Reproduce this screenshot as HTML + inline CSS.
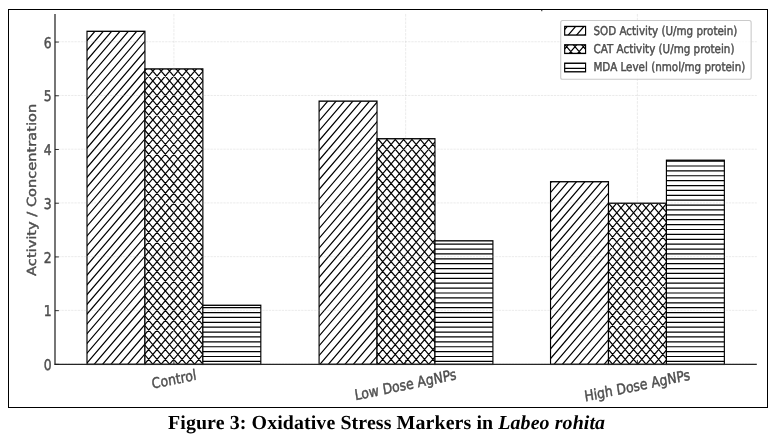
<!DOCTYPE html>
<html lang="en"><head><meta charset="utf-8"><title>Figure 3: Oxidative Stress Markers in Labeo rohita</title>
<style>
html,body{margin:0;padding:0;background:#fff;}
body{width:777px;height:442px;overflow:hidden;position:relative;}
#fig{position:absolute;left:0;top:0;width:777px;height:442px;}
#cap{position:absolute;left:0;top:0;width:777px;height:442px;pointer-events:none;}
</style></head><body>
<div id="fig">
<svg width="777" height="442" viewBox="0 0 777 442" style="display:block">
<rect x="0" y="0" width="777" height="442" fill="#fff"/>
<rect x="8.5" y="9.5" width="759" height="398" fill="none" stroke="#000" stroke-width="1" shape-rendering="crispEdges"/>
<rect x="541" y="10" width="1.4" height="1.2" fill="#555"/>
<g transform="scale(1.045,1.2213)">
<clipPath id="c1"><rect x="83.25" y="25.64" width="55.44" height="272.71"/></clipPath>
<rect x="83.25" y="25.64" width="55.44" height="272.71" fill="#fff"/>
<path d="M81.34 19.14L140.61 -40.13M81.34 27.14L140.61 -32.13M81.34 35.14L140.61 -24.13M81.34 43.14L140.61 -16.13M81.34 51.14L140.61 -8.13M81.34 59.14L140.61 -0.13M81.34 67.14L140.61 7.87M81.34 75.14L140.61 15.87M81.34 83.14L140.61 23.87M81.34 91.14L140.61 31.87M81.34 99.14L140.61 39.87M81.34 107.14L140.61 47.87M81.34 115.14L140.61 55.87M81.34 123.14L140.61 63.87M81.34 131.13L140.61 71.87M81.34 139.13L140.61 79.87M81.34 147.13L140.61 87.87M81.34 155.13L140.61 95.87M81.34 163.13L140.61 103.87M81.34 171.13L140.61 111.87M81.34 179.13L140.61 119.87M81.34 187.13L140.61 127.87M81.34 195.13L140.61 135.87M81.34 203.13L140.61 143.87M81.34 211.13L140.61 151.86M81.34 219.13L140.61 159.86M81.34 227.13L140.61 167.86M81.34 235.13L140.61 175.86M81.34 243.13L140.61 183.86M81.34 251.13L140.61 191.86M81.34 259.13L140.61 199.86M81.34 267.13L140.61 207.86M81.34 275.13L140.61 215.86M81.34 283.13L140.61 223.86M81.34 291.13L140.61 231.86M81.34 299.13L140.61 239.86M81.34 307.13L140.61 247.86M81.34 315.13L140.61 255.86M81.34 323.13L140.61 263.86M81.34 331.13L140.61 271.86M81.34 339.13L140.61 279.86M81.34 347.13L140.61 287.86M81.34 355.13L140.61 295.86M81.34 363.13L140.61 303.86" clip-path="url(#c1)" fill="none" stroke="#000" stroke-width="1.08"/>
<rect x="83.25" y="25.64" width="55.44" height="272.71" fill="none" stroke="#000" stroke-width="1.1"/>
<clipPath id="c2"><rect x="138.70" y="56.43" width="55.44" height="241.92"/></clipPath>
<rect x="138.70" y="56.43" width="55.44" height="241.92" fill="#fff"/>
<path d="M136.78 43.70L196.05 -15.57M136.78 51.70L196.05 -7.57M136.78 59.70L196.05 0.43M136.78 67.70L196.05 8.43M136.78 75.70L196.05 16.43M136.78 83.70L196.05 24.43M136.78 91.70L196.05 32.43M136.78 99.69L196.05 40.43M136.78 107.69L196.05 48.43M136.78 115.69L196.05 56.43M136.78 123.69L196.05 64.43M136.78 131.69L196.05 72.43M136.78 139.69L196.05 80.43M136.78 147.69L196.05 88.43M136.78 155.69L196.05 96.43M136.78 163.69L196.05 104.43M136.78 171.69L196.05 112.42M136.78 179.69L196.05 120.42M136.78 187.69L196.05 128.42M136.78 195.69L196.05 136.42M136.78 203.69L196.05 144.42M136.78 211.69L196.05 152.42M136.78 219.69L196.05 160.42M136.78 227.69L196.05 168.42M136.78 235.69L196.05 176.42M136.78 243.69L196.05 184.42M136.78 251.69L196.05 192.42M136.78 259.69L196.05 200.42M136.78 267.69L196.05 208.42M136.78 275.69L196.05 216.42M136.78 283.69L196.05 224.42M136.78 291.69L196.05 232.42M136.78 299.69L196.05 240.42M136.78 307.69L196.05 248.42M136.78 315.69L196.05 256.42M136.78 323.69L196.05 264.42M136.78 331.69L196.05 272.42M136.78 339.68L196.05 280.42M136.78 347.68L196.05 288.42M136.78 355.68L196.05 296.42M136.78 363.68L196.05 304.42M136.78 304.77L196.05 364.04M136.78 296.77L196.05 356.04M136.78 288.77L196.05 348.04M136.78 280.77L196.05 340.04M136.78 272.77L196.05 332.04M136.78 264.77L196.05 324.04M136.78 256.77L196.05 316.04M136.78 248.77L196.05 308.04M136.78 240.77L196.05 300.04M136.78 232.77L196.05 292.04M136.78 224.77L196.05 284.04M136.78 216.77L196.05 276.04M136.78 208.77L196.05 268.04M136.78 200.77L196.05 260.04M136.78 192.77L196.05 252.04M136.78 184.77L196.05 244.04M136.78 176.77L196.05 236.04M136.78 168.77L196.05 228.04M136.78 160.77L196.05 220.04M136.78 152.77L196.05 212.04M136.78 144.78L196.05 204.04M136.78 136.78L196.05 196.04M136.78 128.78L196.05 188.04M136.78 120.78L196.05 180.04M136.78 112.78L196.05 172.04M136.78 104.78L196.05 164.04M136.78 96.78L196.05 156.04M136.78 88.78L196.05 148.04M136.78 80.78L196.05 140.04M136.78 72.78L196.05 132.05M136.78 64.78L196.05 124.05M136.78 56.78L196.05 116.05M136.78 48.78L196.05 108.05M136.78 40.78L196.05 100.05M136.78 32.78L196.05 92.05M136.78 24.78L196.05 84.05M136.78 16.78L196.05 76.05M136.78 8.78L196.05 68.05M136.78 0.78L196.05 60.05M136.78 -7.22L196.05 52.05" clip-path="url(#c2)" fill="none" stroke="#000" stroke-width="1.08"/>
<rect x="138.70" y="56.43" width="55.44" height="241.92" fill="none" stroke="#000" stroke-width="1.1"/>
<clipPath id="c3"><rect x="194.14" y="249.97" width="55.44" height="48.38"/></clipPath>
<rect x="194.14" y="249.97" width="55.44" height="48.38" fill="#fff"/>
<path d="M192.22 243.91L251.49 243.91M192.22 247.91L251.49 247.91M192.22 251.91L251.49 251.91M192.22 255.91L251.49 255.91M192.22 259.91L251.49 259.91M192.22 263.91L251.49 263.91M192.22 267.91L251.49 267.91M192.22 271.91L251.49 271.91M192.22 275.91L251.49 275.91M192.22 279.91L251.49 279.91M192.22 283.91L251.49 283.91M192.22 287.91L251.49 287.91M192.22 291.91L251.49 291.91M192.22 295.91L251.49 295.91" clip-path="url(#c3)" fill="none" stroke="#000" stroke-width="1.0"/>
<rect x="194.14" y="249.97" width="55.44" height="48.38" fill="none" stroke="#000" stroke-width="1.1"/>
<clipPath id="c4"><rect x="305.35" y="82.82" width="55.44" height="215.53"/></clipPath>
<rect x="305.35" y="82.82" width="55.44" height="215.53" fill="#fff"/>
<path d="M303.44 69.04L362.71 9.77M303.44 77.04L362.71 17.77M303.44 85.04L362.71 25.77M303.44 93.04L362.71 33.77M303.44 101.04L362.71 41.77M303.44 109.03L362.71 49.77M303.44 117.03L362.71 57.77M303.44 125.03L362.71 65.77M303.44 133.03L362.71 73.77M303.44 141.03L362.71 81.77M303.44 149.03L362.71 89.77M303.44 157.03L362.71 97.77M303.44 165.03L362.71 105.77M303.44 173.03L362.71 113.77M303.44 181.03L362.71 121.77M303.44 189.03L362.71 129.76M303.44 197.03L362.71 137.76M303.44 205.03L362.71 145.76M303.44 213.03L362.71 153.76M303.44 221.03L362.71 161.76M303.44 229.03L362.71 169.76M303.44 237.03L362.71 177.76M303.44 245.03L362.71 185.76M303.44 253.03L362.71 193.76M303.44 261.03L362.71 201.76M303.44 269.03L362.71 209.76M303.44 277.03L362.71 217.76M303.44 285.03L362.71 225.76M303.44 293.03L362.71 233.76M303.44 301.03L362.71 241.76M303.44 309.03L362.71 249.76M303.44 317.03L362.71 257.76M303.44 325.03L362.71 265.76M303.44 333.03L362.71 273.76M303.44 341.03L362.71 281.76M303.44 349.03L362.71 289.76M303.44 357.02L362.71 297.76" clip-path="url(#c4)" fill="none" stroke="#000" stroke-width="1.08"/>
<rect x="305.35" y="82.82" width="55.44" height="215.53" fill="none" stroke="#000" stroke-width="1.1"/>
<clipPath id="c5"><rect x="360.80" y="113.61" width="55.44" height="184.74"/></clipPath>
<rect x="360.80" y="113.61" width="55.44" height="184.74" fill="#fff"/>
<path d="M358.88 101.59L418.15 42.33M358.88 109.59L418.15 50.33M358.88 117.59L418.15 58.33M358.88 125.59L418.15 66.33M358.88 133.59L418.15 74.33M358.88 141.59L418.15 82.33M358.88 149.59L418.15 90.32M358.88 157.59L418.15 98.32M358.88 165.59L418.15 106.32M358.88 173.59L418.15 114.32M358.88 181.59L418.15 122.32M358.88 189.59L418.15 130.32M358.88 197.59L418.15 138.32M358.88 205.59L418.15 146.32M358.88 213.59L418.15 154.32M358.88 221.59L418.15 162.32M358.88 229.59L418.15 170.32M358.88 237.59L418.15 178.32M358.88 245.59L418.15 186.32M358.88 253.59L418.15 194.32M358.88 261.59L418.15 202.32M358.88 269.59L418.15 210.32M358.88 277.59L418.15 218.32M358.88 285.59L418.15 226.32M358.88 293.59L418.15 234.32M358.88 301.59L418.15 242.32M358.88 309.59L418.15 250.32M358.88 317.58L418.15 258.32M358.88 325.58L418.15 266.32M358.88 333.58L418.15 274.32M358.88 341.58L418.15 282.32M358.88 349.58L418.15 290.32M358.88 357.58L418.15 298.32M358.88 310.87L418.15 370.14M358.88 302.87L418.15 362.14M358.88 294.87L418.15 354.14M358.88 286.87L418.15 346.14M358.88 278.87L418.15 338.14M358.88 270.87L418.15 330.14M358.88 262.87L418.15 322.14M358.88 254.87L418.15 314.14M358.88 246.87L418.15 306.14M358.88 238.87L418.15 298.14M358.88 230.87L418.15 290.14M358.88 222.87L418.15 282.14M358.88 214.87L418.15 274.14M358.88 206.87L418.15 266.14M358.88 198.87L418.15 258.14M358.88 190.87L418.15 250.14M358.88 182.87L418.15 242.14M358.88 174.87L418.15 234.14M358.88 166.88L418.15 226.14M358.88 158.88L418.15 218.14M358.88 150.88L418.15 210.14M358.88 142.88L418.15 202.14M358.88 134.88L418.15 194.14M358.88 126.88L418.15 186.14M358.88 118.88L418.15 178.14M358.88 110.88L418.15 170.14M358.88 102.88L418.15 162.14M358.88 94.88L418.15 154.15M358.88 86.88L418.15 146.15M358.88 78.88L418.15 138.15M358.88 70.88L418.15 130.15M358.88 62.88L418.15 122.15M358.88 54.88L418.15 114.15" clip-path="url(#c5)" fill="none" stroke="#000" stroke-width="1.08"/>
<rect x="360.80" y="113.61" width="55.44" height="184.74" fill="none" stroke="#000" stroke-width="1.1"/>
<clipPath id="c6"><rect x="416.24" y="197.19" width="55.44" height="101.17"/></clipPath>
<rect x="416.24" y="197.19" width="55.44" height="101.17" fill="#fff"/>
<path d="M414.32 191.91L473.59 191.91M414.32 195.91L473.59 195.91M414.32 199.91L473.59 199.91M414.32 203.91L473.59 203.91M414.32 207.91L473.59 207.91M414.32 211.91L473.59 211.91M414.32 215.91L473.59 215.91M414.32 219.91L473.59 219.91M414.32 223.91L473.59 223.91M414.32 227.91L473.59 227.91M414.32 231.91L473.59 231.91M414.32 235.91L473.59 235.91M414.32 239.91L473.59 239.91M414.32 243.91L473.59 243.91M414.32 247.91L473.59 247.91M414.32 251.91L473.59 251.91M414.32 255.91L473.59 255.91M414.32 259.91L473.59 259.91M414.32 263.91L473.59 263.91M414.32 267.91L473.59 267.91M414.32 271.91L473.59 271.91M414.32 275.91L473.59 275.91M414.32 279.91L473.59 279.91M414.32 283.91L473.59 283.91M414.32 287.91L473.59 287.91M414.32 291.91L473.59 291.91M414.32 295.91L473.59 295.91" clip-path="url(#c6)" fill="none" stroke="#000" stroke-width="1.0"/>
<rect x="416.24" y="197.19" width="55.44" height="101.17" fill="none" stroke="#000" stroke-width="1.1"/>
<clipPath id="c7"><rect x="526.83" y="148.80" width="55.44" height="149.55"/></clipPath>
<rect x="526.83" y="148.80" width="55.44" height="149.55" fill="#fff"/>
<path d="M524.92 135.55L584.19 76.29M524.92 143.55L584.19 84.29M524.92 151.55L584.19 92.29M524.92 159.55L584.19 100.29M524.92 167.55L584.19 108.29M524.92 175.55L584.19 116.29M524.92 183.55L584.19 124.29M524.92 191.55L584.19 132.29M524.92 199.55L584.19 140.29M524.92 207.55L584.19 148.29M524.92 215.55L584.19 156.28M524.92 223.55L584.19 164.28M524.92 231.55L584.19 172.28M524.92 239.55L584.19 180.28M524.92 247.55L584.19 188.28M524.92 255.55L584.19 196.28M524.92 263.55L584.19 204.28M524.92 271.55L584.19 212.28M524.92 279.55L584.19 220.28M524.92 287.55L584.19 228.28M524.92 295.55L584.19 236.28M524.92 303.55L584.19 244.28M524.92 311.55L584.19 252.28M524.92 319.55L584.19 260.28M524.92 327.55L584.19 268.28M524.92 335.55L584.19 276.28M524.92 343.55L584.19 284.28M524.92 351.55L584.19 292.28M524.92 359.55L584.19 300.28" clip-path="url(#c7)" fill="none" stroke="#000" stroke-width="1.08"/>
<rect x="526.83" y="148.80" width="55.44" height="149.55" fill="none" stroke="#000" stroke-width="1.1"/>
<clipPath id="c8"><rect x="582.27" y="166.40" width="55.44" height="131.96"/></clipPath>
<rect x="582.27" y="166.40" width="55.44" height="131.96" fill="#fff"/>
<path d="M580.36 160.11L639.63 100.85M580.36 168.11L639.63 108.85M580.36 176.11L639.63 116.84M580.36 184.11L639.63 124.84M580.36 192.11L639.63 132.84M580.36 200.11L639.63 140.84M580.36 208.11L639.63 148.84M580.36 216.11L639.63 156.84M580.36 224.11L639.63 164.84M580.36 232.11L639.63 172.84M580.36 240.11L639.63 180.84M580.36 248.11L639.63 188.84M580.36 256.11L639.63 196.84M580.36 264.11L639.63 204.84M580.36 272.11L639.63 212.84M580.36 280.11L639.63 220.84M580.36 288.11L639.63 228.84M580.36 296.11L639.63 236.84M580.36 304.11L639.63 244.84M580.36 312.11L639.63 252.84M580.36 320.11L639.63 260.84M580.36 328.11L639.63 268.84M580.36 336.11L639.63 276.84M580.36 344.10L639.63 284.84M580.36 352.10L639.63 292.84M580.36 360.10L639.63 300.84M580.36 308.35L639.63 367.62M580.36 300.35L639.63 359.62M580.36 292.35L639.63 351.62M580.36 284.35L639.63 343.62M580.36 276.35L639.63 335.62M580.36 268.35L639.63 327.62M580.36 260.35L639.63 319.62M580.36 252.35L639.63 311.62M580.36 244.35L639.63 303.62M580.36 236.35L639.63 295.62M580.36 228.35L639.63 287.62M580.36 220.35L639.63 279.62M580.36 212.35L639.63 271.62M580.36 204.35L639.63 263.62M580.36 196.35L639.63 255.62M580.36 188.35L639.63 247.62M580.36 180.35L639.63 239.62M580.36 172.35L639.63 231.62M580.36 164.35L639.63 223.62M580.36 156.35L639.63 215.62M580.36 148.35L639.63 207.62M580.36 140.36L639.63 199.62M580.36 132.36L639.63 191.62M580.36 124.36L639.63 183.62M580.36 116.36L639.63 175.62M580.36 108.36L639.63 167.62" clip-path="url(#c8)" fill="none" stroke="#000" stroke-width="1.08"/>
<rect x="582.27" y="166.40" width="55.44" height="131.96" fill="none" stroke="#000" stroke-width="1.1"/>
<clipPath id="c9"><rect x="637.72" y="131.21" width="55.44" height="167.15"/></clipPath>
<rect x="637.72" y="131.21" width="55.44" height="167.15" fill="#fff"/>
<path d="M635.80 123.91L695.07 123.91M635.80 127.91L695.07 127.91M635.80 131.91L695.07 131.91M635.80 135.91L695.07 135.91M635.80 139.91L695.07 139.91M635.80 143.91L695.07 143.91M635.80 147.91L695.07 147.91M635.80 151.91L695.07 151.91M635.80 155.91L695.07 155.91M635.80 159.91L695.07 159.91M635.80 163.91L695.07 163.91M635.80 167.91L695.07 167.91M635.80 171.91L695.07 171.91M635.80 175.91L695.07 175.91M635.80 179.91L695.07 179.91M635.80 183.91L695.07 183.91M635.80 187.91L695.07 187.91M635.80 191.91L695.07 191.91M635.80 195.91L695.07 195.91M635.80 199.91L695.07 199.91M635.80 203.91L695.07 203.91M635.80 207.91L695.07 207.91M635.80 211.91L695.07 211.91M635.80 215.91L695.07 215.91M635.80 219.91L695.07 219.91M635.80 223.91L695.07 223.91M635.80 227.91L695.07 227.91M635.80 231.91L695.07 231.91M635.80 235.91L695.07 235.91M635.80 239.91L695.07 239.91M635.80 243.91L695.07 243.91M635.80 247.91L695.07 247.91M635.80 251.91L695.07 251.91M635.80 255.91L695.07 255.91M635.80 259.91L695.07 259.91M635.80 263.91L695.07 263.91M635.80 267.91L695.07 267.91M635.80 271.91L695.07 271.91M635.80 275.91L695.07 275.91M635.80 279.91L695.07 279.91M635.80 283.91L695.07 283.91M635.80 287.91L695.07 287.91M635.80 291.91L695.07 291.91M635.80 295.91L695.07 295.91" clip-path="url(#c9)" fill="none" stroke="#000" stroke-width="1.0"/>
<rect x="637.72" y="131.21" width="55.44" height="167.15" fill="none" stroke="#000" stroke-width="1.1"/>
<line x1="52.63" y1="298.11" x2="724.21" y2="298.11" stroke="#b0b0b0" stroke-width="0.7" stroke-dasharray="2.2 0.9" fill="none" opacity="0.32"/>
<line x1="52.63" y1="254.12" x2="724.21" y2="254.12" stroke="#b0b0b0" stroke-width="0.7" stroke-dasharray="2.2 0.9" fill="none" opacity="0.32"/>
<line x1="52.63" y1="210.14" x2="724.21" y2="210.14" stroke="#b0b0b0" stroke-width="0.7" stroke-dasharray="2.2 0.9" fill="none" opacity="0.32"/>
<line x1="52.63" y1="166.15" x2="724.21" y2="166.15" stroke="#b0b0b0" stroke-width="0.7" stroke-dasharray="2.2 0.9" fill="none" opacity="0.32"/>
<line x1="52.63" y1="122.16" x2="724.21" y2="122.16" stroke="#b0b0b0" stroke-width="0.7" stroke-dasharray="2.2 0.9" fill="none" opacity="0.32"/>
<line x1="52.63" y1="78.18" x2="724.21" y2="78.18" stroke="#b0b0b0" stroke-width="0.7" stroke-dasharray="2.2 0.9" fill="none" opacity="0.32"/>
<line x1="52.63" y1="34.19" x2="724.21" y2="34.19" stroke="#b0b0b0" stroke-width="0.7" stroke-dasharray="2.2 0.9" fill="none" opacity="0.32"/>
<line x1="166.42" y1="11.46" x2="166.42" y2="298.35" stroke="#b0b0b0" stroke-width="0.7" stroke-dasharray="2.2 0.9" fill="none" opacity="0.32"/>
<line x1="388.18" y1="11.46" x2="388.18" y2="298.35" stroke="#b0b0b0" stroke-width="0.7" stroke-dasharray="2.2 0.9" fill="none" opacity="0.32"/>
<line x1="609.95" y1="11.46" x2="609.95" y2="298.35" stroke="#b0b0b0" stroke-width="0.7" stroke-dasharray="2.2 0.9" fill="none" opacity="0.32"/>
<line x1="52.63" y1="11.46" x2="52.63" y2="298.75" stroke="#1c1c1c" stroke-width="1.15"/>
<line x1="52.13" y1="298.35" x2="724.21" y2="298.35" stroke="#262626" stroke-width="0.9"/>
<line x1="52.63" y1="298.35" x2="56.33" y2="298.35" stroke="#1c1c1c" stroke-width="0.8"/>
<line x1="52.63" y1="254.37" x2="56.33" y2="254.37" stroke="#1c1c1c" stroke-width="0.8"/>
<line x1="52.63" y1="210.38" x2="56.33" y2="210.38" stroke="#1c1c1c" stroke-width="0.8"/>
<line x1="52.63" y1="166.40" x2="56.33" y2="166.40" stroke="#1c1c1c" stroke-width="0.8"/>
<line x1="52.63" y1="122.41" x2="56.33" y2="122.41" stroke="#1c1c1c" stroke-width="0.8"/>
<line x1="52.63" y1="78.42" x2="56.33" y2="78.42" stroke="#1c1c1c" stroke-width="0.8"/>
<line x1="52.63" y1="34.44" x2="56.33" y2="34.44" stroke="#1c1c1c" stroke-width="0.8"/>
<line x1="166.42" y1="298.35" x2="166.42" y2="294.85" stroke="#1c1c1c" stroke-width="0.8"/>
<line x1="388.18" y1="298.35" x2="388.18" y2="294.85" stroke="#1c1c1c" stroke-width="0.8"/>
<line x1="609.95" y1="298.35" x2="609.95" y2="294.85" stroke="#1c1c1c" stroke-width="0.8"/>
</g>
<text transform="translate(51.75,369.94) scale(1.035,1.225)" text-anchor="end" font-size="12" font-family="DejaVu Sans, Liberation Sans, sans-serif" fill="#4e4e4e" stroke="#4e4e4e" stroke-width="0.38" stroke-linejoin="round" text-rendering="geometricPrecision">0</text>
<text transform="translate(51.75,316.22) scale(1.035,1.225)" text-anchor="end" font-size="12" font-family="DejaVu Sans, Liberation Sans, sans-serif" fill="#4e4e4e" stroke="#4e4e4e" stroke-width="0.38" stroke-linejoin="round" text-rendering="geometricPrecision">1</text>
<text transform="translate(51.75,262.50) scale(1.035,1.225)" text-anchor="end" font-size="12" font-family="DejaVu Sans, Liberation Sans, sans-serif" fill="#4e4e4e" stroke="#4e4e4e" stroke-width="0.38" stroke-linejoin="round" text-rendering="geometricPrecision">2</text>
<text transform="translate(51.75,208.78) scale(1.035,1.225)" text-anchor="end" font-size="12" font-family="DejaVu Sans, Liberation Sans, sans-serif" fill="#4e4e4e" stroke="#4e4e4e" stroke-width="0.38" stroke-linejoin="round" text-rendering="geometricPrecision">3</text>
<text transform="translate(51.75,155.06) scale(1.035,1.225)" text-anchor="end" font-size="12" font-family="DejaVu Sans, Liberation Sans, sans-serif" fill="#4e4e4e" stroke="#4e4e4e" stroke-width="0.38" stroke-linejoin="round" text-rendering="geometricPrecision">4</text>
<text transform="translate(51.75,101.34) scale(1.035,1.225)" text-anchor="end" font-size="12" font-family="DejaVu Sans, Liberation Sans, sans-serif" fill="#4e4e4e" stroke="#4e4e4e" stroke-width="0.38" stroke-linejoin="round" text-rendering="geometricPrecision">5</text>
<text transform="translate(51.75,47.62) scale(1.035,1.225)" text-anchor="end" font-size="12" font-family="DejaVu Sans, Liberation Sans, sans-serif" fill="#4e4e4e" stroke="#4e4e4e" stroke-width="0.38" stroke-linejoin="round" text-rendering="geometricPrecision">6</text>
<text transform="translate(35.95,189.85) rotate(-90) scale(1.2165,1.045)" text-anchor="middle" font-size="12" font-family="DejaVu Sans, Liberation Sans, sans-serif" fill="#4e4e4e" stroke="#4e4e4e" stroke-width="0.38" stroke-linejoin="round" text-rendering="geometricPrecision">Activity / Concentration</text>
<text transform="translate(173.90,378.74) scale(1.035,1.2213) rotate(-10)" x="0" y="4.56" text-anchor="middle" font-size="12" font-family="DejaVu Sans, Liberation Sans, sans-serif" fill="#4e4e4e" stroke="#4e4e4e" stroke-width="0.38" stroke-linejoin="round" text-rendering="geometricPrecision">Control</text>
<text transform="translate(405.65,386.18) scale(1.035,1.2213) rotate(-10)" x="0" y="2.96" text-anchor="middle" font-size="12" font-family="DejaVu Sans, Liberation Sans, sans-serif" fill="#4e4e4e" stroke="#4e4e4e" stroke-width="0.38" stroke-linejoin="round" text-rendering="geometricPrecision">Low Dose AgNPs</text>
<text transform="translate(637.40,386.82) scale(1.035,1.2213) rotate(-10)" x="0" y="3.14" text-anchor="middle" font-size="12" font-family="DejaVu Sans, Liberation Sans, sans-serif" fill="#4e4e4e" stroke="#4e4e4e" stroke-width="0.38" stroke-linejoin="round" text-rendering="geometricPrecision">High Dose AgNPs</text>
<rect x="560.7" y="20.55" width="190.45" height="58.70" rx="1.8" ry="2.1" fill="#fff" fill-opacity="0.8" stroke="#c4c4c4" stroke-opacity="0.9" stroke-width="1.1"/>
<g transform="scale(1.045,1.2213)">
<clipPath id="c10"><rect x="540.36" y="21.66" width="20.00" height="7.04"/></clipPath>
<rect x="540.36" y="21.66" width="20.00" height="7.04" fill="#fff"/>
<path d="M538.45 10.03L562.28 -13.80M538.45 18.03L562.28 -5.80M538.45 26.03L562.28 2.20M538.45 34.03L562.28 10.20M538.45 42.03L562.28 18.20M538.45 50.03L562.28 26.20M538.45 58.03L562.28 34.20" clip-path="url(#c10)" fill="none" stroke="#000" stroke-width="1.08"/>
<rect x="540.36" y="21.66" width="20.00" height="7.04" fill="none" stroke="#000" stroke-width="1.1"/>
<clipPath id="c11"><rect x="540.36" y="36.70" width="20.00" height="7.04"/></clipPath>
<rect x="540.36" y="36.70" width="20.00" height="7.04" fill="#fff"/>
<path d="M538.45 26.03L562.28 2.20M538.45 34.03L562.28 10.20M538.45 42.03L562.28 18.20M538.45 50.03L562.28 26.20M538.45 58.03L562.28 34.20M538.45 66.03L562.28 42.20M538.45 50.45L562.28 74.27M538.45 42.45L562.28 66.27M538.45 34.45L562.28 58.28M538.45 26.45L562.28 50.28M538.45 18.45L562.28 42.28M538.45 10.45L562.28 34.28" clip-path="url(#c11)" fill="none" stroke="#000" stroke-width="1.08"/>
<rect x="540.36" y="36.70" width="20.00" height="7.04" fill="none" stroke="#000" stroke-width="1.1"/>
<clipPath id="c12"><rect x="540.36" y="51.74" width="20.00" height="7.04"/></clipPath>
<rect x="540.36" y="51.74" width="20.00" height="7.04" fill="#fff"/>
<path d="M538.45 43.92L562.28 43.92M538.45 47.92L562.28 47.92M538.45 51.92L562.28 51.92M538.45 55.92L562.28 55.92" clip-path="url(#c12)" fill="none" stroke="#000" stroke-width="1.0"/>
<rect x="540.36" y="51.74" width="20.00" height="7.04" fill="none" stroke="#000" stroke-width="1.1"/>
</g>
<text transform="translate(593.44,34.75) scale(1.035,1.2213)" font-size="10" font-family="DejaVu Sans, Liberation Sans, sans-serif" fill="#4e4e4e" stroke="#4e4e4e" stroke-width="0.38" stroke-linejoin="round" text-rendering="geometricPrecision">SOD Activity (U/mg protein)</text>
<text transform="translate(593.44,53.12) scale(1.035,1.2213)" font-size="10" font-family="DejaVu Sans, Liberation Sans, sans-serif" fill="#4e4e4e" stroke="#4e4e4e" stroke-width="0.38" stroke-linejoin="round" text-rendering="geometricPrecision">CAT Activity (U/mg protein)</text>
<text transform="translate(593.44,71.49) scale(1.035,1.2213)" font-size="10" font-family="DejaVu Sans, Liberation Sans, sans-serif" fill="#4e4e4e" stroke="#4e4e4e" stroke-width="0.38" stroke-linejoin="round" text-rendering="geometricPrecision">MDA Level (nmol/mg protein)</text>
</svg>
</div>
<svg id="cap" width="777" height="442" viewBox="0 0 777 442">
<text x="168.0" y="429.0" font-family="Liberation Serif, Times New Roman, serif" font-weight="bold" font-size="19.9" text-rendering="geometricPrecision" fill="#000" textLength="437" lengthAdjust="spacing">Figure 3: Oxidative Stress Markers in <tspan font-style="italic">Labeo rohita</tspan></text>
</svg>
</body></html>
